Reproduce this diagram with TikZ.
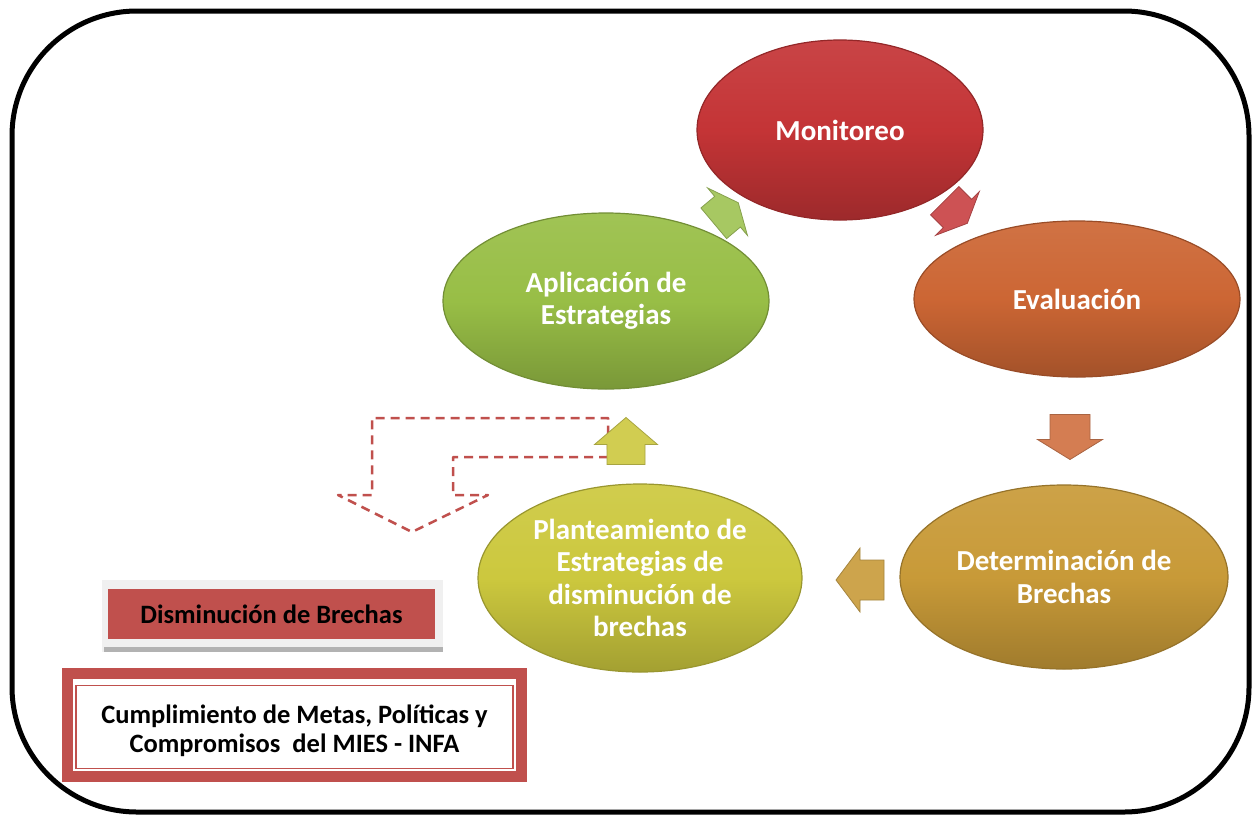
\documentclass[tikz,border=0pt]{standalone}
\usepackage{fontspec}
\setmainfont{Carlito}
\usetikzlibrary{shapes.geometric}
\definecolor{cred}{RGB}{196,52,54}
\definecolor{corange}{RGB}{204,102,52}
\definecolor{cgold}{RGB}{200,154,56}
\definecolor{cyel}{RGB}{204,200,62}
\definecolor{cgreen}{RGB}{152,190,70}
\definecolor{boxred}{RGB}{192,80,77}
\tikzset{
  ell/.style={ellipse, inner sep=0pt, align=center, text=white,
    font=\fontsize{29}{32.5}\selectfont\bfseries, line width=1.2pt},
  blockfill/.style={line width=0.8pt},
}
% #1 shift, #2 angle, #3 colour, #4 length, #5 shaft width, #6 head width, #7 head length
\newcommand\blockarr[7]{%
  \begin{scope}[shift={#1}, rotate=#2]
    \filldraw[blockfill, fill=#3, draw=#3!80!black]
      (-#4/2,-#5/2) -- (#4/2-#7,-#5/2) -- (#4/2-#7,-#6/2) -- (#4/2,0)
      -- (#4/2-#7,#6/2) -- (#4/2-#7,#5/2) -- (-#4/2,#5/2) -- cycle;
  \end{scope}}
\begin{document}
\begin{tikzpicture}[x=1pt,y=-1pt]
\useasboundingbox (0,0) rectangle (1255,817);
\draw[line width=5pt, rounded corners=125pt] (12,11) rectangle (1249,812);

% ellipses
\node[ell, minimum width=286pt, minimum height=180pt, draw=cred!75!black,
  top color=cred!92!white, bottom color=cred!80!black, middle color=cred]
  (m) at (840,130) {Monitoreo};
\node[ell, minimum width=326pt, minimum height=156pt, draw=corange!75!black,
  top color=corange!92!white, bottom color=corange!80!black, middle color=corange]
  (e) at (1077,299) {Evaluación};
\node[ell, minimum width=328pt, minimum height=184pt, draw=cgold!75!black,
  top color=cgold!92!white, bottom color=cgold!80!black, middle color=cgold]
  (d) at (1064,577) {Determinación de\\Brechas};
\node[ell, minimum width=324pt, minimum height=188pt, draw=cyel!75!black,
  top color=cyel!92!white, bottom color=cyel!80!black, middle color=cyel]
  (p) at (640,578) {Planteamiento de\\Estrategias de\\disminución de\\brechas};
\node[ell, minimum width=326pt, minimum height=176pt, draw=cgreen!75!black,
  top color=cgreen!92!white, bottom color=cgreen!80!black, middle color=cgreen]
  (a) at (606,301) {Aplicación de\\Estrategias};

% dashed outline arrow
\draw[boxred, line width=2.5pt, dash pattern=on 9pt off 6pt, line join=round]
  (608,457) -- (453,457) -- (453,495) -- (488,495) -- (412,532) -- (338,495)
  -- (372,495) -- (372,418) -- (608,418) -- cycle;

% block arrows of the cycle
\blockarr{(726,213)}{40}{cgreen!85!white}{32}{40}{62}{14}
\blockarr{(956,212)}{-45}{cred!85!white}{32}{40}{62}{14}
\blockarr{(1070,437)}{-90}{corange!85!white}{45}{40}{65}{20}
\blockarr{(860,580)}{180}{cgold!90!white}{48}{40}{64}{24}
\blockarr{(626,441)}{90}{cyel!90!white}{47}{38}{63}{27}

% Disminucion de Brechas box
\fill[black!6] (102,580) rectangle (443,652);
\fill[black!30] (104,647) rectangle (443,652);
\node[fill=boxred, minimum width=327pt, minimum height=50pt, inner sep=0pt,
  font=\fontsize{26.5}{30}\selectfont\bfseries] (db) at (271.5,614) {Disminución de Brechas};

% Cumplimiento box
\node[draw=boxred, line width=11pt, minimum width=454pt, minimum height=103pt,
  inner sep=0pt] (cb) at (294.5,725) {};
\node[draw=boxred, line width=1.5pt, minimum width=437pt, minimum height=83pt,
  inner sep=0pt] (ct) at (294.5,727) {};
\node[inner sep=0pt, align=center, font=\fontsize{26.5}{29}\selectfont\bfseries]
  (cttext) at (294.5,731) {Cumplimiento de Metas, Políticas y\\Compromisos\ \ del MIES - INFA};
\end{tikzpicture}
\end{document}
